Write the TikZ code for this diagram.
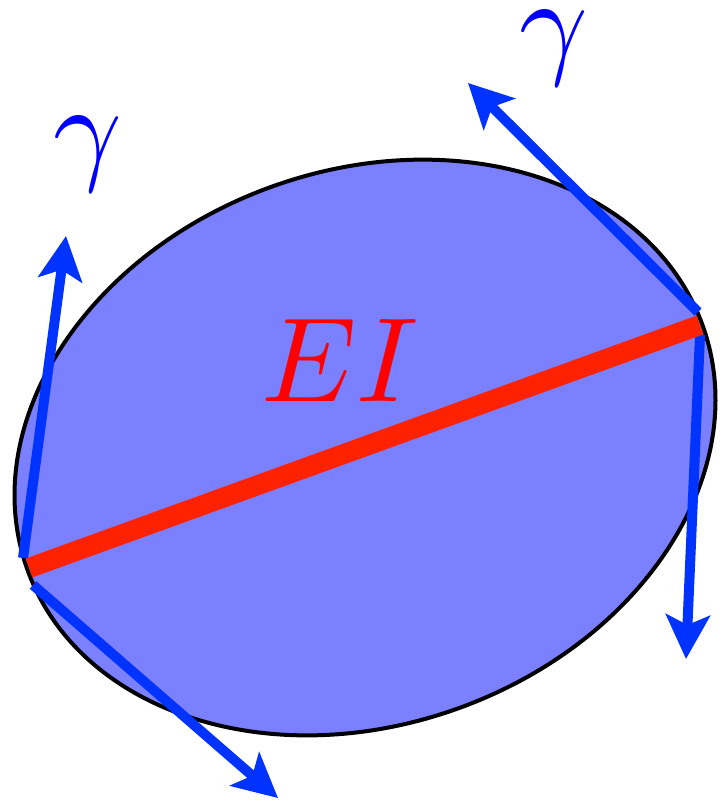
\documentclass[tikz,border=0pt]{standalone}
\usetikzlibrary{arrows.meta}
\definecolor{ellfill}{RGB}{122,128,255}
\definecolor{arrblue}{RGB}{0,51,255}
\definecolor{barred}{RGB}{255,34,0}
\definecolor{txtred}{RGB}{255,0,0}
\definecolor{txtblue}{RGB}{0,0,255}
\tikzset{
  vec/.style={draw=arrblue, line width=10pt, -{Stealth[length=44pt,width=44pt,inset=10pt]}},
  bar/.style={draw=barred, line width=20pt},
  gam/.style={text=txtblue, inner sep=0pt, scale=12},
  lab/.style={text=txtred, inner sep=0pt, scale=12},
}
\begin{document}
\begin{tikzpicture}[x=1pt,y=-1pt]
\useasboundingbox (0,0) rectangle (720,801);
\coordinate (C) at (365,447.5);
\draw[fill=ellfill, line width=4pt, rotate around={20:(C)}] (C) ellipse [x radius=359, y radius=277];
% end points
\coordinate (L) at (29,568);
\coordinate (R) at (700,325);
\coordinate (Lup) at (23,558);
\coordinate (Ldn) at (33,585);
\coordinate (Rup) at (698,312);
\coordinate (Rdn) at (700,335);
\coordinate (T1) at (66,236);
\coordinate (T2) at (278,798);
\coordinate (T3) at (468,83);
\coordinate (T4) at (686,659);
\draw[vec] (Lup) -- (T1);
\draw[vec] (Ldn) -- (T2);
\draw[vec] (Rup) -- (T3);
\draw[vec] (Rdn) -- (T4);
\draw[bar] (L) -- (R);
\node[lab] (ei) at (340,360) {$EI$};
\node[gam] (g1) at (88,154) {$\gamma$};
\node[gam] (g2) at (554,48) {$\gamma$};
\end{tikzpicture}
\end{document}
